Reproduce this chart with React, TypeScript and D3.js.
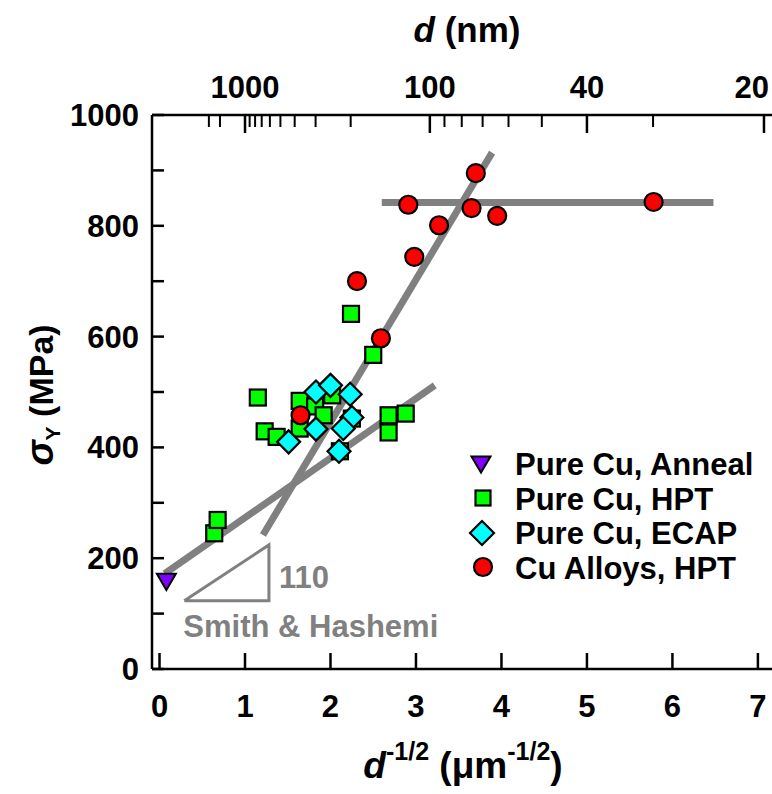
import React from "react";
import * as d3 from "d3";

// d^-1/2 (um^-1/2) vs yield stress (MPa)
const annealX = [0.08];
const annealY = [158];

const hptX = [0.64, 0.68, 1.15, 1.23, 1.37, 1.64, 1.64, 1.82, 1.92, 2.02, 2.25, 2.11, 2.24, 2.5, 2.68, 2.68, 2.88];
const hptY = [245, 269, 490, 429, 419, 484, 434, 474, 458, 494, 452, 393, 641, 567, 458, 427, 461];

const ecapX = [1.51, 1.83, 2.0, 2.23, 2.25, 2.15, 1.83, 2.1];
const ecapY = [410, 500, 512, 496, 454, 434, 433, 393];

const alloyX = [1.65, 2.31, 2.59, 2.91, 2.98, 3.27, 3.65, 3.7, 3.95, 5.78];
const alloyY = [458, 700, 597, 838, 744, 801, 832, 895, 818, 843];

// fitted trend lines
const hallPetchX = [0.06, 3.22];
const hallPetchY = [172, 512];
const steepX = [1.21, 3.89];
const steepY = [242, 932];
const plateauX = [2.6, 6.48];
const plateauY = [842, 842];

// slope triangle (Smith & Hashemi, 110)
const triX = [0.29, 1.28, 1.28, 0.29];
const triY = [123, 123, 224, 123];

const xTicks = [0, 1, 2, 3, 4, 5, 6, 7];
const yTicks = [0, 200, 400, 600, 800, 1000];
const yMinor = [100, 300, 500, 700, 900];
const dMajor = [1000, 100, 40, 20];
const dMinor = [3000, 2000, 900, 800, 700, 600, 500, 400, 300, 200, 90, 80, 70, 60, 50, 30];

const legendLabels = ["Pure Cu, Anneal", "Pure Cu, HPT", "Pure Cu, ECAP", "Cu Alloys, HPT"];

const FONT = "'Liberation Sans', Arial, sans-serif";
const GRAY = "#808080";
const TICK_FS = 31;

const x = d3.scaleLinear().domain([-0.088, 7.2]).range([152, 775]);
const y = d3.scaleLinear().domain([0, 1000]).range([669, 115]);
// d in nm -> d^-1/2 in um^-1/2
const dToX = (d: number) => 1 / Math.sqrt(d / 1000);

const Square = ({ cx, cy, s = 16, fill }: any) => (
  <rect x={cx - s / 2} y={cy - s / 2} width={s} height={s} fill={fill} stroke="#000" strokeWidth={2.2} />
);
const Diamond = ({ cx, cy, r = 11.5, fill }: any) => (
  <path d={`M${cx},${cy - r}L${cx + r},${cy}L${cx},${cy + r}L${cx - r},${cy}Z`} fill={fill} stroke="#000" strokeWidth={2.2} />
);
const Circle = ({ cx, cy, r = 9, fill }: any) => (
  <circle cx={cx} cy={cy} r={r} fill={fill} stroke="#000" strokeWidth={2.2} />
);
const TriDown = ({ cx, cy, w = 19, fill }: any) => (
  <path d={`M${cx - w / 2},${cy - w * 0.4}L${cx + w / 2},${cy - w * 0.4}L${cx},${cy + w * 0.45}Z`} fill={fill} stroke="#000" strokeWidth={2} />
);

export default function App() {
  const line = d3.line<[number, number]>().x((d) => x(d[0])).y((d) => y(d[1]));
  const seg = (xs: number[], ys: number[]) => line(xs.map((v, i) => [v, ys[i]] as [number, number])) || "";

  return (
    <svg width={772} height={794} style={{ position: "absolute", left: 0, top: 0, background: "#fff" }} fontFamily={FONT}>
      {/* axes frame */}
      <line x1={152} x2={772} y1={669} y2={669} stroke="#000" strokeWidth={2.5} />
      <line x1={152} x2={772} y1={115} y2={115} stroke="#000" strokeWidth={2.5} />
      <line x1={152} x2={152} y1={115} y2={669} stroke="#000" strokeWidth={2.5} />

      {xTicks.map((t) => (
        <g key={"xt" + t}>
          <line x1={x(t)} x2={x(t)} y1={669} y2={653} stroke="#000" strokeWidth={2.5} />
          <text x={x(t)} y={717} textAnchor="middle" fontSize={TICK_FS} fontWeight="bold">{t}</text>
        </g>
      ))}
      {yTicks.map((t) => (
        <g key={"yt" + t}>
          <line x1={152} x2={164} y1={y(t)} y2={y(t)} stroke="#000" strokeWidth={2.5} />
          <text x={139} y={y(t) + 11} textAnchor="end" fontSize={TICK_FS} fontWeight="bold">{t}</text>
        </g>
      ))}
      {yMinor.map((t) => (
        <line key={"ym" + t} x1={152} x2={164} y1={y(t)} y2={y(t)} stroke="#000" strokeWidth={2.5} />
      ))}
      {dMajor.map((d) => {
        const px = x(dToX(d));
        const last = d === 20;
        return (
          <g key={"dm" + d}>
            <line x1={px} x2={px} y1={115} y2={133} stroke="#000" strokeWidth={2.5} />
            <text x={last ? 769 : px} y={98} textAnchor={last ? "end" : "middle"} fontSize={TICK_FS} fontWeight="bold">{d}</text>
          </g>
        );
      })}
      {dMinor.map((d) => (
        <line key={"dn" + d} x1={x(dToX(d))} x2={x(dToX(d))} y1={115} y2={127} stroke="#000" strokeWidth={2} />
      ))}

      {/* titles */}
      <text x={467} y={42} textAnchor="middle" fontSize={35} fontWeight="bold">
        <tspan fontStyle="italic">d</tspan> (nm)
      </text>
      <text x={463} y={778} textAnchor="middle" fontSize={37} fontWeight="bold">
        <tspan fontStyle="italic">d</tspan>
        <tspan fontSize={25} dy={-18}>-1/2</tspan>
        <tspan dy={18}> (μm</tspan>
        <tspan fontSize={25} dy={-18}>-1/2</tspan>
        <tspan dy={18}>)</tspan>
      </text>
      <text transform="translate(53,395) rotate(-90)" textAnchor="middle" fontSize={34} fontWeight="bold">
        <tspan fontStyle="italic" fontSize={38}>σ</tspan>
        <tspan fontSize={21} dy={7}>Y</tspan>
        <tspan dy={-7}> (MPa)</tspan>
      </text>

      {/* trend lines */}
      <path d={seg(hallPetchX, hallPetchY)} stroke={GRAY} strokeWidth={7} fill="none" />
      <path d={seg(steepX, steepY)} stroke={GRAY} strokeWidth={7} fill="none" />
      <path d={seg(plateauX, plateauY)} stroke={GRAY} strokeWidth={7} fill="none" />

      {/* slope triangle */}
      <path d={seg(triX, triY)} stroke={GRAY} strokeWidth={3} fill="none" strokeLinejoin="miter" />
      <text x={x(1.28) + 10} y={588} fontSize={31} fontWeight="bold" fill={GRAY}>110</text>
      <text x={x(0.29) - 1} y={637} fontSize={31} fontWeight="bold" fill={GRAY}>Smith &amp; Hashemi</text>

      {/* data */}
      {annealX.map((v, i) => <TriDown key={"a" + i} cx={x(v)} cy={y(annealY[i])} fill="#8000ff" />)}
      {hptX.map((v, i) => <Square key={"h" + i} cx={x(v)} cy={y(hptY[i])} fill="#00ff00" />)}
      {ecapX.map((v, i) => <Diamond key={"e" + i} cx={x(v)} cy={y(ecapY[i])} fill="#00ffff" />)}
      {alloyX.map((v, i) => <Circle key={"c" + i} cx={x(v)} cy={y(alloyY[i])} fill="#ff0000" />)}

      {/* legend */}
      <TriDown cx={481} cy={464} fill="#8000ff" />
      <Square cx={483} cy={498} fill="#00ff00" s={15} />
      <Diamond cx={482} cy={533} fill="#00ffff" r={12} />
      <Circle cx={483} cy={567} fill="#ff0000" />
      {legendLabels.map((l, i) => (
        <text key={l} x={515} y={475 + i * 34.5} fontSize={31} fontWeight="bold">{l}</text>
      ))}
    </svg>
  );
}
